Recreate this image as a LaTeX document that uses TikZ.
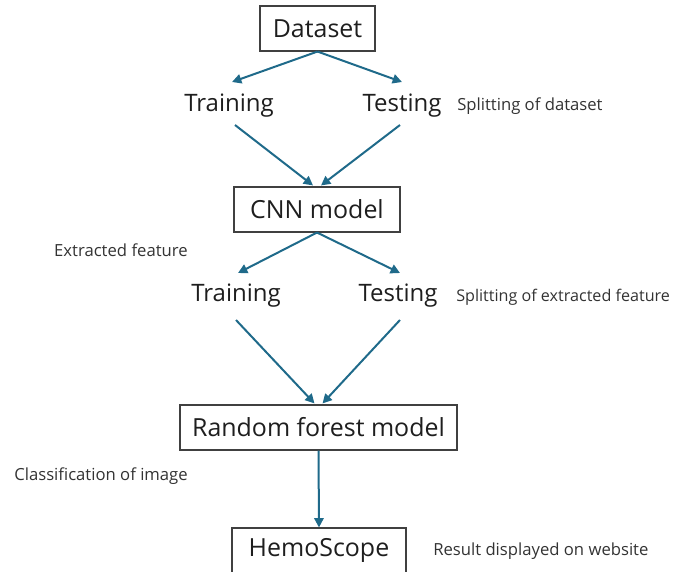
\documentclass[tikz,border=0pt]{standalone}
\usepackage{fontspec}
\setmainfont{Open Sans}
\usetikzlibrary{arrows.meta,calc}
\definecolor{flow}{HTML}{1F6A8A}
\definecolor{ink}{HTML}{1E1E1E}
\definecolor{note}{HTML}{333333}
\begin{document}
\begin{tikzpicture}[x=0.75pt,y=-0.75pt,
  stagebox/.style={draw=ink!85,line width=0.8pt,text=ink,inner sep=0pt,
    minimum height=33.75pt,font=\fontsize{18.7}{22}\selectfont},
  splitlabel/.style={text=ink,inner sep=0pt,font=\fontsize{18}{21}\selectfont},
  notelabel/.style={text=note,inner sep=0pt,font=\fontsize{12.5}{15}\selectfont},
  arr/.style={draw=flow,line width=1.5pt,-{Triangle[length=7pt,width=7pt]}}]
\useasboundingbox (0,0) rectangle (676,572);
\clip (0,0) rectangle (676,572);

% stages
\node[stagebox,minimum width=86.25pt] (ds) at (317.5,28.5) {Dataset};
\node[stagebox,minimum width=124.5pt] (cnn) at (317,209.5) {CNN model};
\node[stagebox,minimum width=207.75pt] (rf) at (318.5,427.5) {Random forest model};
\node[stagebox,minimum width=130.5pt] (hs) at (319,550.5) {HemoScope};

% splits
\node[splitlabel] (tr1) at (229,106) {Training};
\node[splitlabel] (te1) at (402,106) {Testing};
\node[splitlabel] (tr2) at (236,296) {Training};
\node[splitlabel] (te2) at (398,296) {Testing};

% side notes
\node[notelabel,anchor=west] (n1) at (457,106) {Splitting of dataset};
\node[notelabel,anchor=east] (n2) at (188,250) {Extracted feature};
\node[notelabel,anchor=west,font=\fontsize{12.1}{15}\selectfont] (n3) at (456,297) {Splitting of extracted feature};
\node[notelabel,anchor=east] (n4) at (188,476) {Classification of image};
\node[notelabel,anchor=west] (n5) at (433,551) {Result displayed on website};

% connectors
\draw[arr] (ds.south) -- ($(tr1.center)+(3,-24)$);
\draw[arr] (ds.south) -- ($(te1.center)+(0,-24)$);
\draw[arr] ($(tr1.center)+(6,19)$) -- ($(cnn.north)+(-4,-1)$);
\draw[arr] ($(te1.center)+(-2,19)$) -- ($(cnn.north)+(4,-1)$);
\draw[arr] (cnn.south) -- ($(tr2.center)+(2,-23)$);
\draw[arr] (cnn.south) -- ($(te2.center)+(2,-23)$);
\draw[arr] ($(tr2.center)+(0,24)$) -- ($(rf.north)+(-4,-1)$);
\draw[arr] ($(te2.center)+(2,24)$) -- ($(rf.north)+(4,-1)$);
\draw[arr] (rf.south) -- (hs.north);
\end{tikzpicture}
\end{document}
